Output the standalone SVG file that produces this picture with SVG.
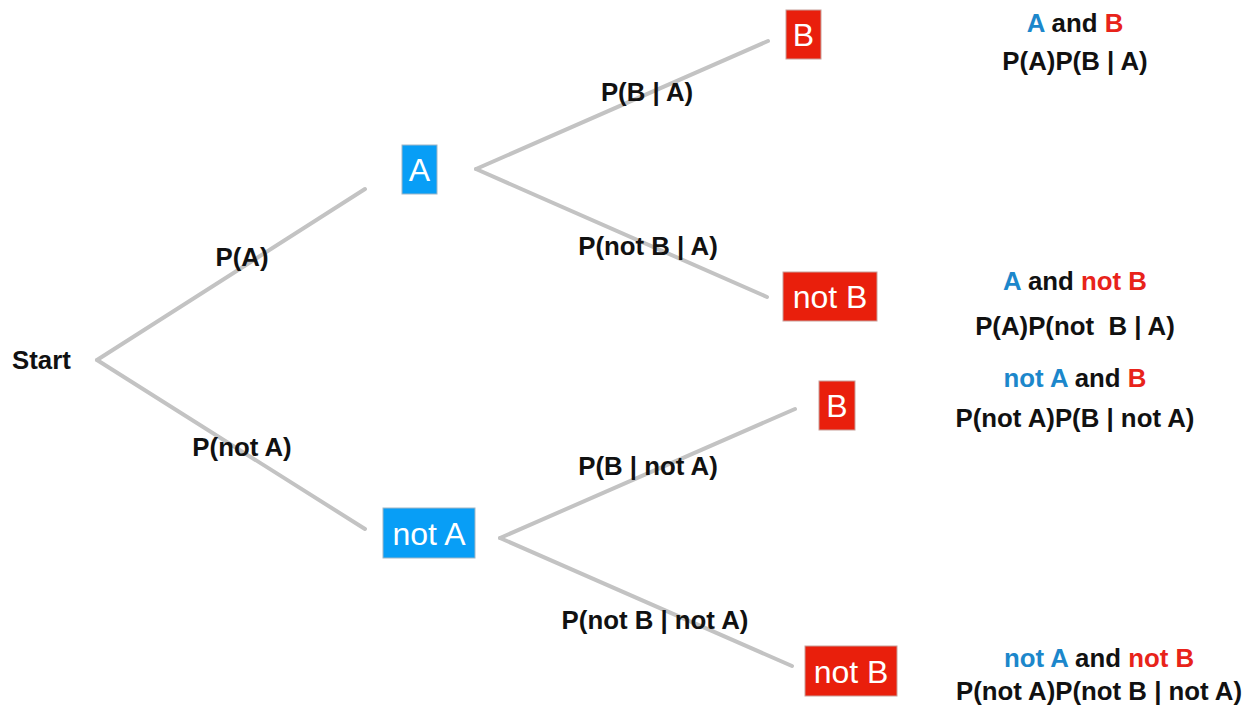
<svg xmlns="http://www.w3.org/2000/svg" width="1255" height="715" viewBox="0 0 1255 715">
  <style>
    .edge { stroke: #c3c3c3; stroke-width: 4; stroke-linecap: round; fill: none; }
    .lbl { font-family: "Liberation Sans", Arial, Helvetica, sans-serif; font-weight: bold; font-size: 25.8px; fill: #111; }
    .mid { text-anchor: middle; }
    .boxA { fill: #089ef6; stroke: #9fb6c6; stroke-width: 1; }
    .boxB { fill: #e91f0c; stroke: #c8a09a; stroke-width: 1; }
    .boxtxt { font-family: "Liberation Sans", Arial, Helvetica, sans-serif; font-size: 32px; fill: #ffffff; text-anchor: middle; }
    .blue { fill: #1c87cb; }
    .red { fill: #e8231a; }
  </style>
  <rect width="1255" height="715" fill="#ffffff"/>

  <!-- branches of the tree -->
  <g id="connectors">
    <line class="edge" x1="97" y1="360" x2="365" y2="189"/>
    <line class="edge" x1="97" y1="360" x2="365" y2="529"/>
    <line class="edge" x1="476" y1="169" x2="768" y2="41"/>
    <line class="edge" x1="476" y1="169" x2="767" y2="297"/>
    <line class="edge" x1="500" y1="538" x2="795" y2="409"/>
    <line class="edge" x1="500" y1="538" x2="792" y2="666"/>
  </g>

  <!-- branch probabilities -->
  <g id="edge-labels">
    <text class="lbl mid" x="242" y="266">P(A)</text>
    <text class="lbl mid" x="242" y="456">P(not A)</text>
    <text class="lbl mid" x="647" y="101">P(B | A)</text>
    <text class="lbl mid" x="648" y="255">P(not B | A)</text>
    <text class="lbl mid" x="648" y="475">P(B | not A)</text>
    <text class="lbl mid" x="655" y="629">P(not B | not A)</text>
  </g>

  <g id="start">
    <text class="lbl" x="12" y="369">Start</text>
  </g>

  <g id="node-A">
    <rect class="boxA" x="402" y="145" width="35" height="49"/>
    <text class="boxtxt" x="419.5" y="181">A</text>
  </g>

  <g id="node-notA">
    <rect class="boxA" x="383" y="508" width="92" height="50"/>
    <text class="boxtxt" x="429" y="545">not A</text>
  </g>

  <g id="node-A-B">
    <rect class="boxB" x="786" y="10" width="35" height="49"/>
    <text class="boxtxt" x="803.5" y="46">B</text>
  </g>

  <g id="node-A-notB">
    <rect class="boxB" x="783" y="272" width="94" height="49"/>
    <text class="boxtxt" x="830" y="308">not B</text>
  </g>

  <g id="node-notA-B">
    <rect class="boxB" x="819" y="381" width="36" height="49"/>
    <text class="boxtxt" x="837" y="417">B</text>
  </g>

  <g id="node-notA-notB">
    <rect class="boxB" x="805" y="646" width="92" height="50"/>
    <text class="boxtxt" x="851" y="683">not B</text>
  </g>

  <!-- joint outcomes -->
  <g id="outcome-1">
    <text class="lbl mid" x="1075" y="32"><tspan class="blue">A</tspan> and <tspan class="red">B</tspan></text>
    <text class="lbl mid" x="1075" y="70">P(A)P(B | A)</text>
  </g>
  <g id="outcome-2">
    <text class="lbl mid" x="1075" y="290"><tspan class="blue">A</tspan> and <tspan class="red">not B</tspan></text>
    <text class="lbl mid" x="1075" y="335" xml:space="preserve">P(A)P(not  B | A)</text>
  </g>
  <g id="outcome-3">
    <text class="lbl mid" x="1075" y="387"><tspan class="blue">not A</tspan> and <tspan class="red">B</tspan></text>
    <text class="lbl mid" x="1075" y="427">P(not A)P(B | not A)</text>
  </g>
  <g id="outcome-4">
    <text class="lbl mid" x="1099" y="667"><tspan class="blue">not A</tspan> and <tspan class="red">not B</tspan></text>
    <text class="lbl mid" x="1099" y="700">P(not A)P(not B | not A)</text>
  </g>
</svg>
